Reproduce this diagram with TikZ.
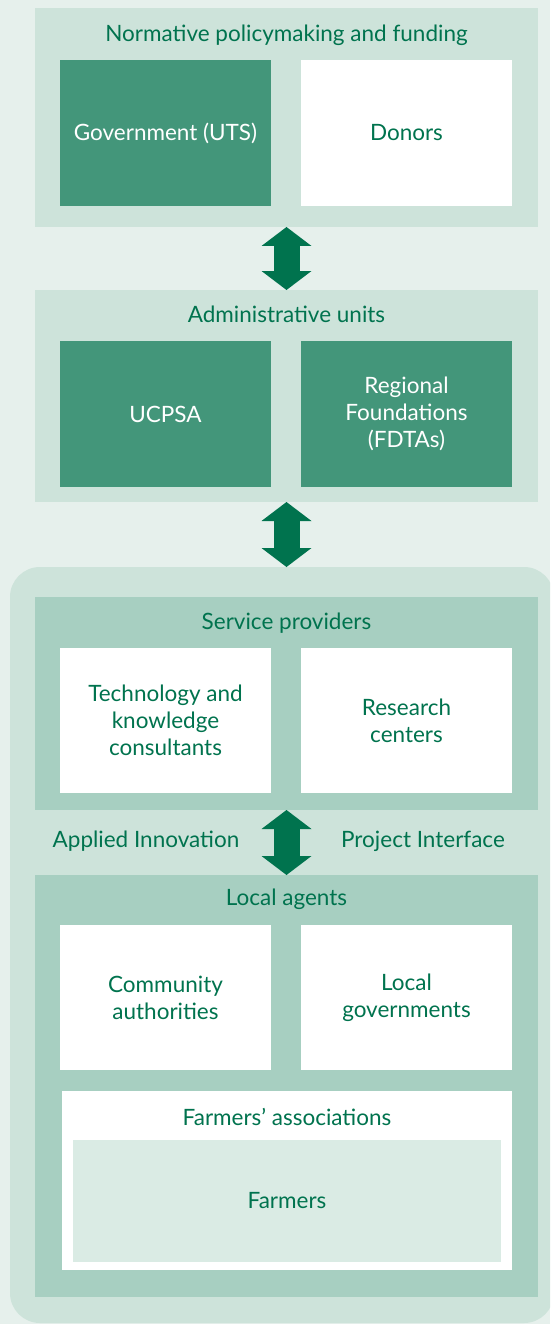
\documentclass[tikz,border=0pt]{standalone}
\usepackage{fontspec}
\setmainfont{Lato}
\usetikzlibrary{arrows.meta}

\definecolor{bggreen}{HTML}{E6F0EC}
\definecolor{palegreen}{HTML}{CDE3DA}
\definecolor{midgreen}{HTML}{A7CFC1}
\definecolor{boxgreen}{HTML}{43967A}
\definecolor{inkgreen}{HTML}{00734E}
\definecolor{farmgreen}{HTML}{DAEBE4}

\tikzset{
    every node/.style={inner sep=0pt, outer sep=0pt, align=center,
        font=\fontsize{22.5}{27}\selectfont},
    panel/.style={fill=palegreen, minimum width=503pt},
    darkpanel/.style={fill=midgreen, minimum width=503pt},
    title/.style={text=inkgreen},
    darkbox/.style={fill=boxgreen, text=white, minimum width=211pt, minimum height=146pt},
    whitebox/.style={fill=white, text=inkgreen, minimum width=211pt, minimum height=146pt},
    linkarrow/.style={draw=inkgreen, line width=26pt,
        {Triangle[width=50pt, length=19pt, line width=0pt]}-{Triangle[width=50pt, length=19pt, line width=0pt]}}
}

\begin{document}
\begin{tikzpicture}[x=1pt, y=-1pt]
        % Background
        \fill[bggreen] (0,0) rectangle (550,1324);
        \useasboundingbox (0,0) rectangle (550,1324);
        \clip (0,0) rectangle (550,1324);

        % Nodes
        \node[panel, minimum height=219pt] (policy) at (286.5, 117.5) {};
        \node[title] (policyt) at (286.5, 35) {Normative policymaking and funding};
        \node[darkbox] (gov) at (165.5, 133) {Government (UTS)};
        \node[whitebox] (donors) at (406.5, 133) {Donors};

        \node[panel, minimum height=212pt] (admin) at (286.5, 396) {};
        \node[title] (admint) at (286.5, 314) {Administrative units};
        \node[darkbox] (ucpsa) at (165.5, 414) {UCPSA};
        \node[darkbox] (fdta) at (406.5, 414) {Regional\\Foundations\\(FDTAs)};

        \node[fill=palegreen, rounded corners=30pt, minimum width=544pt, minimum height=756pt] (field) at (282, 945) {};
        \coordinate (fieldtop) at (admin.south |- field.north);

        \node[darkpanel, minimum height=213pt] (service) at (286.5, 703.5) {};
        \node[title] (servicet) at (286.5, 623) {Service providers};
        \node[whitebox, minimum height=145pt] (tech) at (165.5, 720.5) {Technology and\\knowledge\\consultants};
        \node[whitebox, minimum height=145pt] (research) at (406.5, 720.5) {Research\\centers};

        \node[title] (applied) at (146, 841) {Applied Innovation};
        \node[title] (iface) at (423, 841) {Project Interface};

        \node[darkpanel, minimum height=422pt] (local) at (286.5, 1086) {};
        \node[title] (localt) at (286.5, 899) {Local agents};
        \node[whitebox, minimum height=145pt] (community) at (165.5, 997.5) {Community\\authorities};
        \node[whitebox, minimum height=145pt] (localgov) at (406.5, 997.5) {Local\\governments};

        \node[fill=white, minimum width=450pt, minimum height=179pt] (assoc) at (287, 1180.5) {};
        \node[title] (assoct) at (287, 1117) {Farmers’ associations};
        \node[fill=farmgreen, text=inkgreen, minimum width=428pt, minimum height=122pt] (farmers) at (287, 1201) {Farmers};

        % Arrows
        \draw[linkarrow] (policy.south) -- (admin.north);
        \draw[linkarrow] (admin.south) -- (fieldtop);
        \draw[linkarrow] (service.south) -- (local.north);
    \end{tikzpicture}
\end{document}
